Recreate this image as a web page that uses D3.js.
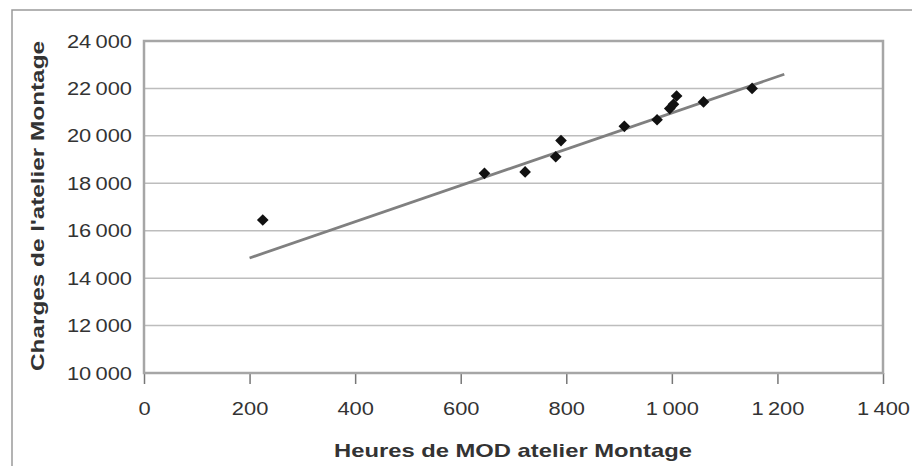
<!DOCTYPE html>
<html>
<head>
<meta charset="utf-8">
<script src="https://cdn.jsdelivr.net/npm/d3@7"></script>
<style>
  body { margin: 0; background: #fff; }
  svg { display: block; }
  text { font-family: "Liberation Sans", Arial, sans-serif; }
</style>
</head>
<body>
<svg id="chart" width="912" height="466"></svg>
<script>
// data
var heures = [225, 645, 722, 780, 790, 910, 972, 996, 1003, 1009, 1060, 1152];
var charges = [16450, 18420, 18480, 19120, 19800, 20400, 20680, 21150, 21330, 21680, 21430, 22000];
// regression line end points
var trendX = [200, 1213];
var trendY = [14850, 22600];
var xTicks = [0, 200, 400, 600, 800, 1000, 1200, 1400];
var yTicks = [10000, 12000, 14000, 16000, 18000, 20000, 22000, 24000];

var svg = d3.select("#chart");
var plotL = 144, plotR = 883, plotT = 41, plotB = 373;

var x = d3.scaleLinear().domain([0, 1400]).range([plotL, plotR]);
var y = d3.scaleLinear().domain([10000, 24000]).range([plotB, plotT]);

// french style thousands: narrow space
function fr(v) {
  var s = String(v);
  if (s.length > 3) s = s.slice(0, s.length - 3) + "\u2009" + s.slice(s.length - 3);
  return s;
}

// the scanned text is wider than liberation, stretch it a bit
function stretch(sel, k) {
  sel.each(function () {
    var w = this.getComputedTextLength();
    d3.select(this).attr("textLength", w * k).attr("lengthAdjust", "spacingAndGlyphs");
  });
}

// outer frame (only left and top visible)
svg.append("path")
  .attr("d", "M12,466 L12,10 L912,10")
  .attr("fill", "none")
  .attr("stroke", "#9a9a9a")
  .attr("stroke-width", 1.5);

// grid lines
svg.append("g").selectAll("line")
  .data(yTicks.slice(1, -1))
  .enter().append("line")
  .attr("x1", plotL).attr("x2", plotR)
  .attr("y1", function (d) { return y(d); })
  .attr("y2", function (d) { return y(d); })
  .attr("stroke", "#bdbdbd")
  .attr("stroke-width", 1.5);

// x axis ticks + labels
var xAxis = d3.axisBottom(x).tickValues(xTicks).tickSize(11).tickFormat(fr);
var gx = svg.append("g").attr("transform", "translate(0," + plotB + ")").call(xAxis);
gx.select(".domain").remove();
gx.selectAll(".tick line").attr("stroke", "#777").attr("stroke-width", 1.5);
gx.selectAll(".tick text")
  .attr("y", 29)
  .attr("fill", "#333")
  .style("font-size", "19px")
  .style("font-family", "\"Liberation Sans\", Arial, sans-serif")
  .call(stretch, 1.15);

// y axis labels
var yAxis = d3.axisLeft(y).tickValues(yTicks).tickSize(0).tickPadding(12).tickFormat(fr);
var gy = svg.append("g").attr("transform", "translate(" + plotL + ",0)").call(yAxis);
gy.select(".domain").remove();
gy.selectAll(".tick text")
  .attr("fill", "#333")
  .style("font-size", "19px")
  .style("font-family", "\"Liberation Sans\", Arial, sans-serif")
  .call(stretch, 1.15);

// plot border
svg.append("rect")
  .attr("x", plotL).attr("y", plotT)
  .attr("width", plotR - plotL).attr("height", plotB - plotT)
  .attr("fill", "none")
  .attr("stroke", "#a6a6a6")
  .attr("stroke-width", 2.5);

// trend line
svg.append("line")
  .attr("x1", x(trendX[0])).attr("y1", y(trendY[0]))
  .attr("x2", x(trendX[1])).attr("y2", y(trendY[1]))
  .attr("stroke", "#808080")
  .attr("stroke-width", 2.8);

// points
var pts = heures.map(function (h, i) { return [h, charges[i]]; });
svg.append("g").selectAll("path")
  .data(pts)
  .enter().append("path")
  .attr("d", d3.symbol().type(d3.symbolSquare).size(68))
  .attr("transform", function (d) { return "translate(" + x(d[0]) + "," + y(d[1]) + ") rotate(45)"; })
  .attr("fill", "#111");

// axis titles
svg.append("text")
  .attr("x", 513).attr("y", 457)
  .attr("text-anchor", "middle")
  .attr("font-weight", "bold")
  .attr("fill", "#333")
  .style("font-size", "19px")
  .attr("textLength", 358)
  .attr("lengthAdjust", "spacingAndGlyphs")
  .text("Heures de MOD atelier Montage");

svg.append("text")
  .attr("transform", "translate(44,206) rotate(-90)")
  .attr("text-anchor", "middle")
  .attr("font-weight", "bold")
  .attr("fill", "#333")
  .style("font-size", "19px")
  .attr("textLength", 330)
  .attr("lengthAdjust", "spacingAndGlyphs")
  .text("Charges de l'atelier Montage");
</script>
</body>
</html>
